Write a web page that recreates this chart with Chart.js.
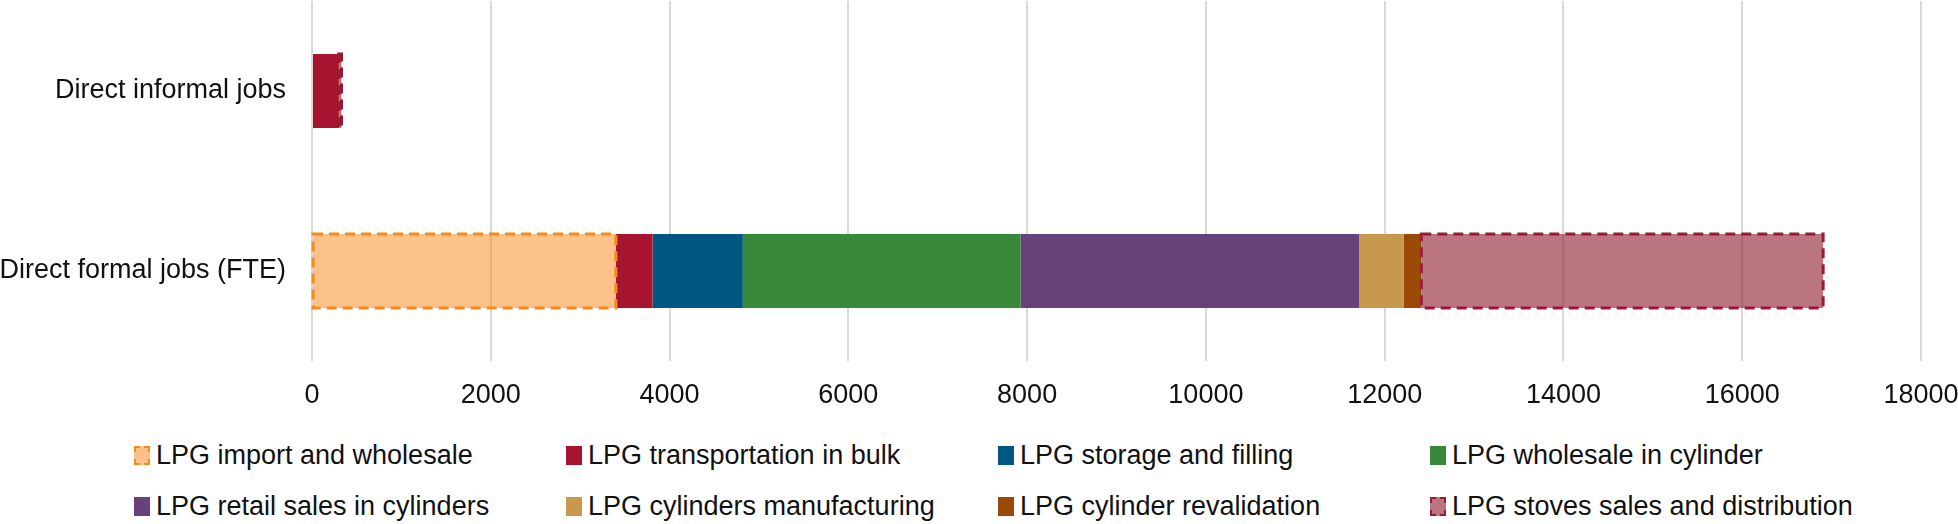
<!DOCTYPE html>
<html lang="en">
<head>
  <meta charset="UTF-8">
  <title>LPG jobs</title>
  <script src="https://cdn.jsdelivr.net/npm/chart.js"></script>
  <style>
    body { margin: 0; background: #fff; }
    .wrap { position: relative; width: 1958px; height: 524px; }
    #chart { position: absolute; left: 0; top: 0; }
    #legend {
      position: absolute; left: 134px; top: 431px;
      display: grid; grid-template-columns: repeat(4, 432px); grid-auto-rows: 51px;
      font-family: "Liberation Sans", Arial, sans-serif; font-size: 27px; color: #111;
    }
    #legend .item { display: flex; align-items: center; height: 48px; white-space: nowrap; }
    #legend .box { width: 16px; height: 19px; margin-right: 6px; box-sizing: border-box; }
  </style>
</head>
<body>
  <div class="wrap">
    <canvas id="chart" width="1958" height="420"></canvas>
    <div id="legend"></div>
  </div>

  <script>
    // categories (y axis) and x axis ticks
    const categories = ['Direct informal jobs', 'Direct formal jobs (FTE)'];
    const xTicks = [0, 2000, 4000, 6000, 8000, 10000, 12000, 14000, 16000, 18000];

    // series values, [informal, formal]
    const importWholesale = [0, 3400];
    const transportBulk = [300, 410];
    const storageFilling = [0, 1010];
    const wholesaleCylinder = [0, 3105];
    const retailCylinders = [0, 3790];
    const cylManufacturing = [0, 500];
    const cylRevalidation = [0, 195];
    const stovesSales = [30, 4495];

    const seriesNames = [
      'LPG import and wholesale', 'LPG transportation in bulk', 'LPG storage and filling',
      'LPG wholesale in cylinder', 'LPG retail sales in cylinders', 'LPG cylinders manufacturing',
      'LPG cylinder revalidation', 'LPG stoves sales and distribution'
    ];
    const seriesValues = [importWholesale, transportBulk, storageFilling, wholesaleCylinder,
      retailCylinders, cylManufacturing, cylRevalidation, stovesSales];
    const fills = ['rgba(250,140,40,0.55)', '#a8142f', '#00577f', '#388a3a',
      '#66417a', '#c8994c', '#984a06', 'rgba(140,25,45,0.6)'];
    const dashes = ['#f58a1f', null, null, null, null, null, null, '#9b1b30'];

    // dashed outline for some series (bars have no borderDash option)
    const dashedBorders = {
      id: 'dashedBorders',
      afterDatasetsDraw(chart) {
        const ctx = chart.ctx;
        chart.data.datasets.forEach((ds, i) => {
          if (!ds.dashColor) return;
          const meta = chart.getDatasetMeta(i);
          meta.data.forEach((bar, j) => {
            if (!ds.data[j]) return;
            const p = bar.getProps(['x', 'y', 'base', 'height'], true);
            ctx.save();
            ctx.setLineDash([10, 6]);
            ctx.lineWidth = 3;
            ctx.strokeStyle = ds.dashColor;
            ctx.strokeRect(Math.min(p.base, p.x), p.y - p.height / 2, Math.abs(p.x - p.base), p.height);
            ctx.restore();
          });
        });
      }
    };

    const datasets = seriesNames.map((name, i) => ({
      label: name,
      data: seriesValues[i],
      backgroundColor: fills[i],
      borderWidth: 0,
      dashColor: dashes[i],
      barPercentage: 0.41,
      categoryPercentage: 1
    }));

    const font = { family: '"Liberation Sans", Arial, sans-serif', size: 27 };

    new Chart(document.getElementById('chart'), {
      type: 'bar',
      data: { labels: categories, datasets: datasets },
      options: {
        indexAxis: 'y',
        responsive: false,
        animation: false,
        layout: { padding: { top: 1, right: 37, bottom: 0, left: 0 } },
        plugins: { legend: { display: false }, tooltip: { enabled: false } },
        scales: {
          x: {
            stacked: true, min: 0, max: 18000,
            afterBuildTicks(scale) { scale.ticks = xTicks.map(v => ({ value: v })); },
            afterFit(scale) { scale.height = 59; scale.paddingLeft = 0; scale.paddingRight = 0; },
            grid: { color: '#d9d9d9', lineWidth: 2, drawTicks: false },
            border: { display: false },
            ticks: { font: font, color: '#111', padding: 18, maxRotation: 0, callback: v => String(v) }
          },
          y: {
            stacked: true,
            afterFit(scale) { scale.width = 312; scale.paddingTop = 0; scale.paddingBottom = 0; },
            grid: { display: false, drawTicks: false },
            border: { display: false },
            ticks: { font: font, color: '#111', padding: 26 }
          }
        }
      },
      plugins: [dashedBorders]
    });

    // legend in a 4 column grid
    const legend = document.getElementById('legend');
    seriesNames.forEach((name, i) => {
      const item = document.createElement('div');
      item.className = 'item';
      const box = document.createElement('span');
      box.className = 'box';
      box.style.background = fills[i];
      if (dashes[i]) box.style.border = '2px dashed ' + dashes[i];
      item.appendChild(box);
      item.appendChild(document.createTextNode(name));
      legend.appendChild(item);
    });
  </script>
</body>
</html>
